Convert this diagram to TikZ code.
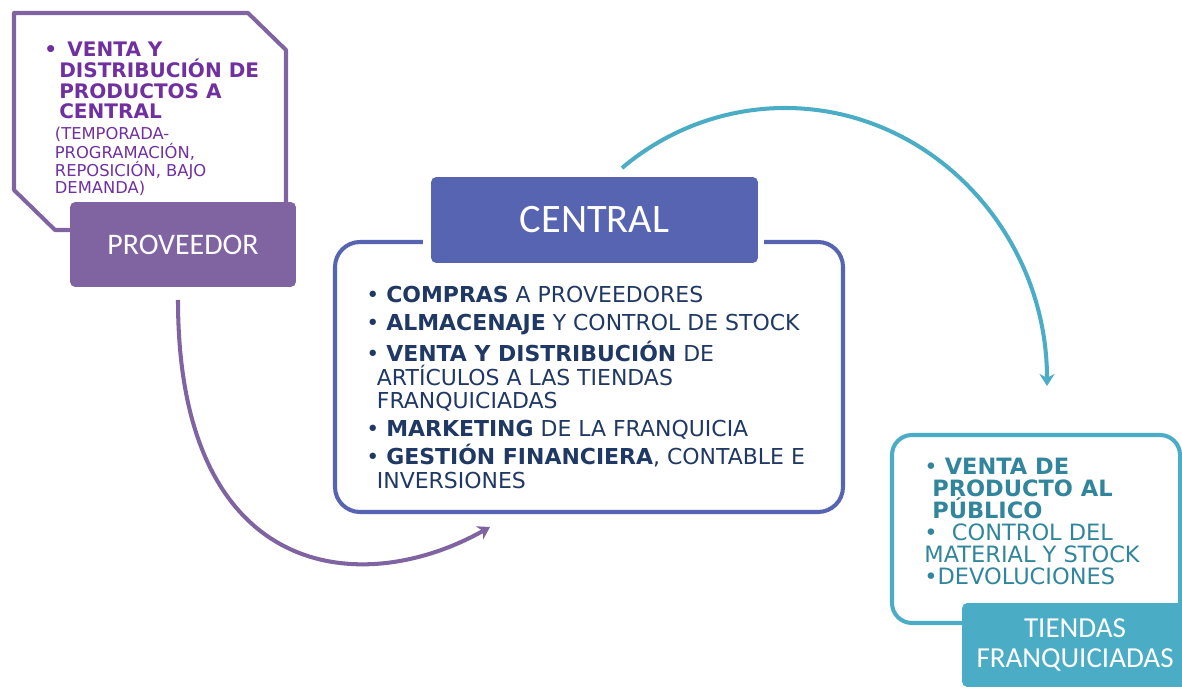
\documentclass[tikz,border=0pt]{standalone}
\usepackage{fontspec}
\usepackage{tikz}
\usetikzlibrary{arrows.meta, positioning}
\newfontfamily\bodyfont{DejaVu Sans}
\newfontfamily\titlefont{Carlito}
\definecolor{provcol}{RGB}{128,100,162}
\definecolor{provtext}{RGB}{112,48,160}
\definecolor{centcol}{RGB}{86,100,178}
\definecolor{centtext}{RGB}{31,56,100}
\definecolor{tiendcol}{RGB}{75,172,198}
\definecolor{tiendtext}{RGB}{49,133,156}
\tikzstyle{titlebox}=[rectangle, rounded corners=3pt, text=white, inner sep=0pt]
\tikzstyle{frame}=[line width=2.3pt, rounded corners=0.5cm]
\tikzstyle{flow}=[line width=2.3pt, -{Stealth[length=0.24cm, width=0.3cm]}]
\tikzstyle{bullets}=[align=left, inner sep=0pt, anchor=north west]

\begin{document}
\begin{tikzpicture}[x=0.02cm, y=-0.02cm]
  \useasboundingbox (0,0) rectangle (1182,688);

  % proveedor
  \draw[provcol, line width=2.3pt, line join=round]
    (80,230) -- (55,230) -- (14,190) -- (14,13) -- (248,13) -- (286,50) -- (286,210);
  \node[titlebox, fill=provcol, minimum width=4.52cm, minimum height=1.7cm,
        font=\titlefont\fontsize{17}{20}\selectfont] (prov) at (183,244.5) {PROVEEDOR};
  \node[bullets, text=provtext, font=\bodyfont\bfseries\fontsize{11.4}{11.7}\selectfont]
    (provtxt) at (44,42) {\textbullet\ \,VENTA Y\\
      \hspace*{8.5pt}DISTRIBUCIÓN DE\\
      \hspace*{8.5pt}PRODUCTOS A\\
      \hspace*{8.5pt}CENTRAL};
  \node[bullets, text=provtext, font=\bodyfont\fontsize{9.3}{9.6}\selectfont,
        below=4pt of provtxt.south west, anchor=north west, xshift=6pt]
    (provnote) {(TEMPORADA-\\PROGRAMACIÓN,\\REPOSICIÓN, BAJO\\DEMANDA)};

  % central
  \draw[centcol, frame] (335,242) rectangle (843,512);
  \fill[white] (423,170) rectangle (764,268);
  \node[titlebox, fill=centcol, minimum width=6.54cm, minimum height=1.72cm,
        font=\titlefont\fontsize{23}{26}\selectfont] (central) at (594.5,220) {CENTRAL};
  \node[bullets, text=centtext, font=\bodyfont\fontsize{12.5}{13.6}\selectfont]
    (centtxt) at (366,286) {\textbullet\ \textbf{COMPRAS} A PROVEEDORES\\[2.3pt]
      \textbullet\ \textbf{ALMACENAJE} Y CONTROL DE STOCK\\[2.3pt]
      \textbullet\ \textbf{VENTA Y DISTRIBUCIÓN} DE\\
      \hspace*{6pt}ARTÍCULOS A LAS TIENDAS\\
      \hspace*{6pt}FRANQUICIADAS\\[2.3pt]
      \textbullet\ \textbf{MARKETING} DE LA FRANQUICIA\\[2.3pt]
      \textbullet\ \textbf{GESTIÓN FINANCIERA}, CONTABLE E\\
      \hspace*{6pt}INVERSIONES};

  % tiendas
  \draw[tiendcol, frame, rounded corners=0.4cm] (892,435) rectangle (1180,623);
  \node[titlebox, fill=tiendcol, minimum width=4.52cm, minimum height=1.68cm, align=center,
        font=\titlefont\fontsize{16.5}{17.6}\selectfont] (tiendas) at (1075,645) {TIENDAS\\FRANQUICIADAS};
  \node[bullets, text=tiendtext, font=\bodyfont\fontsize{12.8}{12.5}\selectfont]
    (tiendtxt) at (924,458) {\textbullet\ \textbf{VENTA DE}\\
      \hspace*{4.5pt}\textbf{PRODUCTO AL}\\
      \hspace*{4.5pt}\textbf{PÚBLICO}\\
      \textbullet\ \ CONTROL DEL\\
      MATERIAL Y STOCK\\
      \textbullet DEVOLUCIONES};

  % flechas
  \coordinate (provstart) at (178,300);
  \coordinate (provend) at (490,527);
  \coordinate (tealstart) at (622,168);
  \coordinate (tealend) at (1047,386);
  \draw[flow, provcol] (provstart) .. controls (178,580) and (360,600) .. (provend);
  \draw[flow, tiendcol] (tealstart) .. controls (668,129) and (726,108) .. (785,108)
    .. controls (930,108) and (1047,232) .. (tealend);
\end{tikzpicture}
\end{document}
